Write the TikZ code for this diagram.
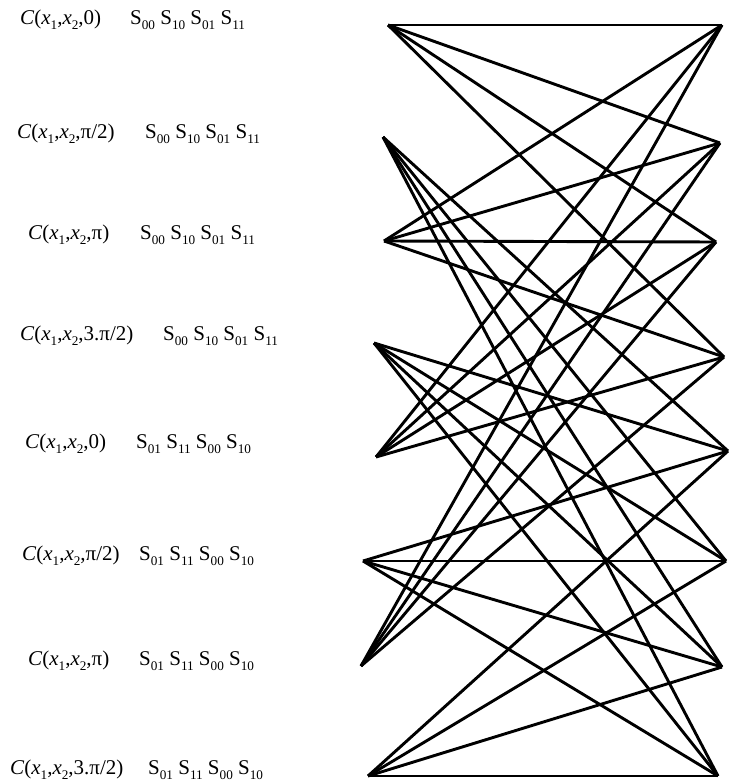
\documentclass[tikz,border=0pt]{standalone}
\usepackage{fontspec}
\setmainfont{Liberation Serif}
\newcommand{\sbx}[1]{\raisebox{-0.22em}{\fontsize{13.2}{13.2}\selectfont #1}}
\begin{document}
\begin{tikzpicture}[x=1pt,y=-1pt,
  lab/.style={anchor=west,inner sep=0pt,font=\fontsize{21}{24}\selectfont,text height=0.7em,text depth=0.2em},
  edge/.style={line width=2.9pt}]
\useasboundingbox (0,0) rectangle (735,783);
% labels
\node[lab] (c1) at (20,22)  {\textit{C}(\textit{x}\sbx{1},\textit{x}\sbx{2},0)};
\node[lab] (c2) at (17,136) {\textit{C}(\textit{x}\sbx{1},\textit{x}\sbx{2},π/2)};
\node[lab] (c3) at (28,237) {\textit{C}(\textit{x}\sbx{1},\textit{x}\sbx{2},π)};
\node[lab] (c4) at (20,338) {\textit{C}(\textit{x}\sbx{1},\textit{x}\sbx{2},3.π/2)};
\node[lab] (c5) at (25,446) {\textit{C}(\textit{x}\sbx{1},\textit{x}\sbx{2},0)};
\node[lab] (c6) at (22,558) {\textit{C}(\textit{x}\sbx{1},\textit{x}\sbx{2},π/2)};
\node[lab] (c7) at (28,663) {\textit{C}(\textit{x}\sbx{1},\textit{x}\sbx{2},π)};
\node[lab] (c8) at (10,772) {\textit{C}(\textit{x}\sbx{1},\textit{x}\sbx{2},3.π/2)};
\node[lab] (s1) at (130,22)  {S\sbx{00} S\sbx{10} S\sbx{01} S\sbx{11}};
\node[lab] (s2) at (145,136) {S\sbx{00} S\sbx{10} S\sbx{01} S\sbx{11}};
\node[lab] (s3) at (140,237) {S\sbx{00} S\sbx{10} S\sbx{01} S\sbx{11}};
\node[lab] (s4) at (163,338) {S\sbx{00} S\sbx{10} S\sbx{01} S\sbx{11}};
\node[lab] (s5) at (136,446) {S\sbx{01} S\sbx{11} S\sbx{00} S\sbx{10}};
\node[lab] (s6) at (139,558) {S\sbx{01} S\sbx{11} S\sbx{00} S\sbx{10}};
\node[lab] (s7) at (139,663) {S\sbx{01} S\sbx{11} S\sbx{00} S\sbx{10}};
\node[lab] (s8) at (148,772) {S\sbx{01} S\sbx{11} S\sbx{00} S\sbx{10}};
% endpoints
\coordinate (L1) at (388,25);
\coordinate (L2) at (383,137);
\coordinate (L3) at (384,241);
\coordinate (L4) at (374,343);
\coordinate (L5) at (376,457);
\coordinate (L6) at (363,561);
\coordinate (L7) at (361,666);
\coordinate (L8) at (368,776);
\coordinate (R1) at (722,25);
\coordinate (R2) at (720,143);
\coordinate (R3) at (716,242);
\coordinate (R4) at (724,357);
\coordinate (R5) at (728,451);
\coordinate (R6) at (726,561);
\coordinate (R7) at (722,667);
\coordinate (R8) at (718,776);
\foreach \l in {1,3,5,7}
  \foreach \r in {1,2,3,4}
    \draw[edge] (L\l) -- (R\r);
\foreach \l in {2,4,6,8}
  \foreach \r in {5,6,7,8}
    \draw[edge] (L\l) -- (R\r);
\end{tikzpicture}
\end{document}
